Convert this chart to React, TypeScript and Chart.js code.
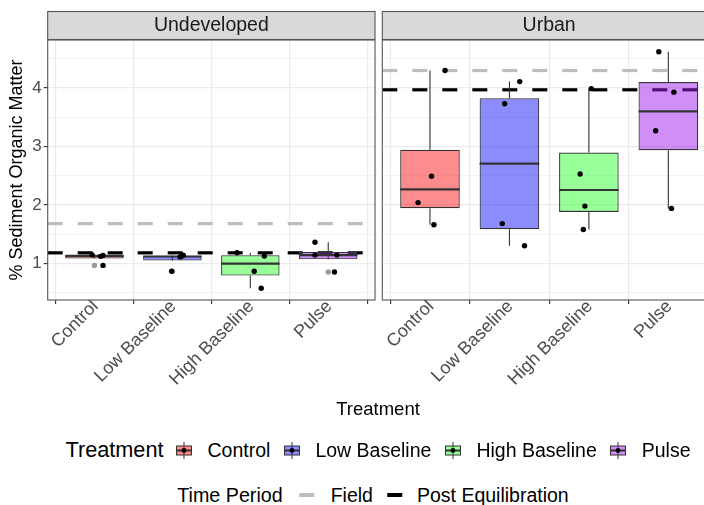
import React, { useEffect, useRef } from 'react';
import { Chart, registerables } from 'chart.js';

Chart.register(...registerables);

const FONT = '"Liberation Sans", Arial, Helvetica, sans-serif';

// Facets and treatment groups
const sites = ['Undeveloped', 'Urban'];
const treatments = ['Control', 'Low Baseline', 'High Baseline', 'Pulse'];
const treatmentFills = [
  'rgba(255,0,0,0.45)',
  'rgba(0,0,255,0.45)',
  'rgba(0,255,0,0.4)',
  'rgba(160,32,240,0.5)',
];

// % sediment organic matter per replicate core — Undeveloped site
const undevControl = [1.145, 1.135, 1.12, 0.965];
const undevLowBaseline = [1.14, 1.125, 1.11, 0.864];
const undevHighBaseline = [1.182, 1.124, 0.864, 0.575];
const undevPulse = [1.362, 1.141, 1.141, 0.852];

// % sediment organic matter per replicate core — Urban site
const urbanControl = [4.3, 2.49, 2.04, 1.66];
const urbanLowBaseline = [4.11, 3.73, 1.68, 1.3];
const urbanHighBaseline = [3.99, 2.53, 1.98, 1.58];
const urbanPulse = [4.62, 3.93, 3.27, 1.94];

// horizontal jitter of each replicate, in category units
const undevJitter = [
  [-0.03, 0.11, 0.08, 0.11],
  [0.14, 0.12, 0.1, -0.01],
  [-0.17, 0.18, 0.05, 0.14],
  [-0.17, -0.17, 0.11, 0.08],
];
const urbanJitter = [
  [0.19, 0.02, -0.15, 0.05],
  [0.13, -0.06, -0.09, 0.19],
  [0.03, -0.11, -0.05, -0.07],
  [-0.12, 0.07, -0.16, 0.04],
];

// site means for each time period (dashed reference lines)
const fieldLevels = [1.68, 4.3];
const equilibrationLevels = [1.18, 3.97];

const yMajorTicks = [1, 2, 3, 4];
const yMinorTicks = [0.5, 1.5, 2.5, 3.5, 4.5];

const siteGroups = [
  [undevControl, undevLowBaseline, undevHighBaseline, undevPulse],
  [urbanControl, urbanLowBaseline, urbanHighBaseline, urbanPulse],
];
const siteJitter = [undevJitter, urbanJitter];

// discrete x scale: categories at 0..3, expanded 0.6 on each side
const X_MIN = -0.6;
const X_MAX = treatments.length - 1 + 0.6;

// shared y range with 5% expansion of the data range
const allValues = siteGroups.flat(2);
const dataMin = Math.min(...allValues);
const dataMax = Math.max(...allValues);
const Y_MIN = dataMin - (dataMax - dataMin) * 0.05;
const Y_MAX = dataMax + (dataMax - dataMin) * 0.05;

type BoxStat = {
  q1: number;
  med: number;
  q3: number;
  lo: number;
  hi: number;
  outliers: number[];
};

function quantile(sorted: number[], p: number) {
  const h = (sorted.length - 1) * p;
  const a = Math.floor(h);
  const b = Math.ceil(h);
  return sorted[a] + (h - a) * (sorted[b] - sorted[a]);
}

function boxStats(values: number[]): BoxStat {
  const s = [...values].sort((a, b) => a - b);
  const q1 = quantile(s, 0.25);
  const med = quantile(s, 0.5);
  const q3 = quantile(s, 0.75);
  const iqr = q3 - q1;
  const fenceLo = q1 - 1.5 * iqr;
  const fenceHi = q3 + 1.5 * iqr;
  const inside = s.filter((v) => v >= fenceLo && v <= fenceHi);
  return {
    q1,
    med,
    q3,
    lo: Math.min(...inside),
    hi: Math.max(...inside),
    outliers: s.filter((v) => v < fenceLo || v > fenceHi),
  };
}

// whiskers under the boxes, medians over them, then strip + panel border
const boxplotPlugin = {
  id: 'boxplotParts',
  beforeDatasetDraw(chart: any, args: any, opts: any) {
    const ds = chart.data.datasets[args.index];
    if (ds.type !== 'bar') return;
    const { ctx } = chart;
    const xs = chart.scales.x;
    const ys = chart.scales.y;
    const stats: BoxStat[] = opts.stats;
    ctx.save();
    ctx.strokeStyle = '#333333';
    ctx.lineWidth = 1.1;
    stats.forEach((s, i) => {
      const x = xs.getPixelForValue(i);
      ctx.beginPath();
      ctx.moveTo(x, ys.getPixelForValue(s.q3));
      ctx.lineTo(x, ys.getPixelForValue(s.hi));
      ctx.moveTo(x, ys.getPixelForValue(s.q1));
      ctx.lineTo(x, ys.getPixelForValue(s.lo));
      ctx.stroke();
    });
    ctx.restore();
  },
  afterDatasetDraw(chart: any, args: any, opts: any) {
    const ds = chart.data.datasets[args.index];
    if (ds.type !== 'bar') return;
    const { ctx } = chart;
    const ys = chart.scales.y;
    const stats: BoxStat[] = opts.stats;
    const meta = chart.getDatasetMeta(args.index);
    ctx.save();
    ctx.strokeStyle = '#333333';
    ctx.lineWidth = 2.2;
    stats.forEach((s, i) => {
      const bar = meta.data[i];
      const half = bar.width / 2;
      const y = ys.getPixelForValue(s.med);
      ctx.beginPath();
      ctx.moveTo(bar.x - half, y);
      ctx.lineTo(bar.x + half, y);
      ctx.stroke();
    });
    ctx.restore();
  },
  afterDraw(chart: any, _args: any, opts: any) {
    const { ctx, chartArea: a } = chart;
    ctx.save();
    // facet strip
    ctx.fillStyle = '#D9D9D9';
    ctx.fillRect(a.left, a.top - 28.5, a.right - a.left, 28);
    ctx.strokeStyle = '#555555';
    ctx.lineWidth = 1.1;
    ctx.strokeRect(a.left, a.top - 28.5, a.right - a.left, 28);
    ctx.fillStyle = '#1A1A1A';
    ctx.font = `19.5px ${FONT}`;
    ctx.textAlign = 'center';
    ctx.textBaseline = 'middle';
    ctx.fillText(opts.title, (a.left + a.right) / 2, a.top - 14);
    // panel border
    ctx.strokeRect(a.left, a.top, a.right - a.left, a.bottom - a.top);
    ctx.restore();
  },
};

function buildConfig(panel: number): any {
  const groups = siteGroups[panel];
  const jitter = siteJitter[panel];
  const stats = groups.map(boxStats);
  const showY = panel === 0;
  const isMajor = (v: number) => yMajorTicks.includes(v);

  return {
    type: 'scatter',
    data: {
      datasets: [
        {
          type: 'line',
          label: 'Field',
          data: [
            { x: X_MIN, y: fieldLevels[panel] },
            { x: X_MAX, y: fieldLevels[panel] },
          ],
          borderColor: '#BDBDBD',
          borderWidth: 3.2,
          borderDash: [15, 15],
          pointRadius: 0,
          showLine: true,
          fill: false,
          order: 4,
        },
        {
          type: 'line',
          label: 'Post Equilibration',
          data: [
            { x: X_MIN, y: equilibrationLevels[panel] },
            { x: X_MAX, y: equilibrationLevels[panel] },
          ],
          borderColor: '#000000',
          borderWidth: 3.2,
          borderDash: [15, 15],
          pointRadius: 0,
          showLine: true,
          fill: false,
          order: 3,
        },
        {
          type: 'bar',
          label: 'Treatment',
          data: stats.map((s, i) => ({ x: i, y: [s.q1, s.q3] })),
          backgroundColor: treatmentFills,
          borderColor: '#333333',
          borderWidth: 1.1,
          borderSkipped: false,
          barPercentage: 0.75,
          categoryPercentage: 1,
          order: 2,
        },
        {
          type: 'scatter',
          label: 'Outliers',
          data: stats.flatMap((s, i) => s.outliers.map((v) => ({ x: i, y: v }))),
          backgroundColor: '#9A9A9A',
          borderWidth: 0,
          pointRadius: 2.7,
          order: 1,
        },
        {
          type: 'scatter',
          label: 'Replicates',
          data: groups.flatMap((g, i) =>
            g.map((v, j) => ({ x: i + jitter[i][j], y: v }))
          ),
          backgroundColor: '#000000',
          borderWidth: 0,
          pointRadius: 2.7,
          order: 0,
        },
      ],
    },
    options: {
      responsive: false,
      animation: false,
      devicePixelRatio: 1,
      layout: {
        padding: showY
          ? { left: 0, right: 5, top: 40, bottom: 0 }
          : { left: 86.3, right: 10, top: 40, bottom: 0 },
      },
      plugins: {
        legend: { display: false },
        tooltip: { enabled: false },
        boxplotParts: { stats, title: sites[panel] },
      },
      scales: {
        x: {
          type: 'linear',
          min: X_MIN,
          max: X_MAX,
          offset: false,
          afterBuildTicks: (s: any) => {
            s.ticks = treatments.map((_, i) => ({ value: i }));
          },
          afterFit: (s: any) => {
            s.height = 100;
          },
          ticks: {
            autoSkip: false,
            minRotation: 45,
            maxRotation: 45,
            padding: -8,
            labelOffset: 1,
            color: '#4D4D4D',
            font: { family: FONT, size: 18 },
            callback: (v: number) => treatments[v] ?? '',
          },
          grid: {
            color: '#EBEBEB',
            lineWidth: 1.2,
            tickColor: '#333333',
            tickWidth: 1.1,
            tickLength: 4,
          },
          border: { display: false },
        },
        y: {
          type: 'linear',
          min: Y_MIN,
          max: Y_MAX,
          afterBuildTicks: (s: any) => {
            s.ticks = [...yMinorTicks, ...yMajorTicks]
              .sort((a, b) => a - b)
              .map((v) => ({ value: v }));
          },
          afterFit: (s: any) => {
            s.width = showY ? 47.7 : 0;
          },
          ticks: {
            display: showY,
            padding: 2,
            color: '#4D4D4D',
            font: { family: FONT, size: 17 },
            callback: (v: number) => (isMajor(v) ? String(v) : ''),
          },
          grid: {
            color: '#EBEBEB',
            lineWidth: (c: any) => (isMajor(c.tick?.value) ? 1.2 : 0.6),
            tickColor: (c: any) =>
              isMajor(c.tick?.value) ? '#333333' : 'rgba(0,0,0,0)',
            tickWidth: 1.1,
            drawTicks: showY,
            tickLength: 4,
          },
          border: { display: false },
          title: {
            display: showY,
            text: '% Sediment Organic Matter',
            color: '#000000',
            font: { family: FONT, size: 18 },
            padding: { top: 6, bottom: 0 },
          },
        },
      },
    },
    plugins: [boxplotPlugin],
  };
}

function Panel({ panel, left, width }: { panel: number; left: number; width: number }) {
  const ref = useRef<HTMLCanvasElement>(null);
  useEffect(() => {
    if (!ref.current) return;
    const chart = new Chart(ref.current, buildConfig(panel));
    return () => chart.destroy();
  }, [panel]);
  return (
    <canvas
      ref={ref}
      width={width}
      height={400}
      style={{ position: 'absolute', left, top: 0, width, height: 400 }}
    />
  );
}

function BoxKey({ fill }: { fill: string }) {
  return (
    <svg width={17} height={17} style={{ display: 'block' }}>
      <line x1={8.5} x2={8.5} y1={0} y2={17} stroke="#333" strokeWidth={1} />
      <rect x={1} y={4} width={15} height={9} fill={fill} stroke="#333" strokeWidth={1} />
      <line x1={1} x2={16} y1={8.5} y2={8.5} stroke="#333" strokeWidth={1.8} />
      <circle cx={8.5} cy={8.5} r={2.4} fill="#000" />
    </svg>
  );
}

function LineKey({ color }: { color: string }) {
  return <div style={{ width: 15, height: 3.2, background: color }} />;
}

const rowStyle: React.CSSProperties = {
  position: 'absolute',
  transform: 'translateX(-50%)',
  display: 'flex',
  alignItems: 'center',
  whiteSpace: 'nowrap',
  fontFamily: FONT,
  color: '#000',
  height: 24,
  lineHeight: '24px',
};

export default function App() {
  return (
    <div
      style={{
        position: 'fixed',
        left: 0,
        top: 0,
        width: 704,
        height: 505,
        overflow: 'hidden',
        background: '#fff',
      }}
    >
      <Panel panel={0} left={0} width={380} />
      <Panel panel={1} left={296} width={430} />

      <div
        style={{
          position: 'absolute',
          left: 378,
          top: 397,
          transform: 'translateX(-50%)',
          fontFamily: FONT,
          fontSize: 18.5,
          lineHeight: '24px',
          color: '#000',
          whiteSpace: 'nowrap',
        }}
      >
        Treatment
      </div>

      <div style={{ ...rowStyle, left: 378, top: 438 }}>
        <span style={{ fontSize: 21.7, marginRight: 12 }}>Treatment</span>
        {treatments.map((t, i) => (
          <React.Fragment key={t}>
            <BoxKey fill={treatmentFills[i]} />
            <span
              style={{
                fontSize: 19.5,
                marginLeft: 15,
                marginRight: i < treatments.length - 1 ? 13 : 0,
              }}
            >
              {t}
            </span>
          </React.Fragment>
        ))}
      </div>

      <div style={{ ...rowStyle, left: 373, top: 483 }}>
        <span style={{ fontSize: 19.7, marginRight: 17 }}>Time Period</span>
        <LineKey color="#BDBDBD" />
        <span style={{ fontSize: 19.5, marginLeft: 16, marginRight: 14 }}>Field</span>
        <LineKey color="#000000" />
        <span style={{ fontSize: 19.5, marginLeft: 15 }}>Post Equilibration</span>
      </div>
    </div>
  );
}
